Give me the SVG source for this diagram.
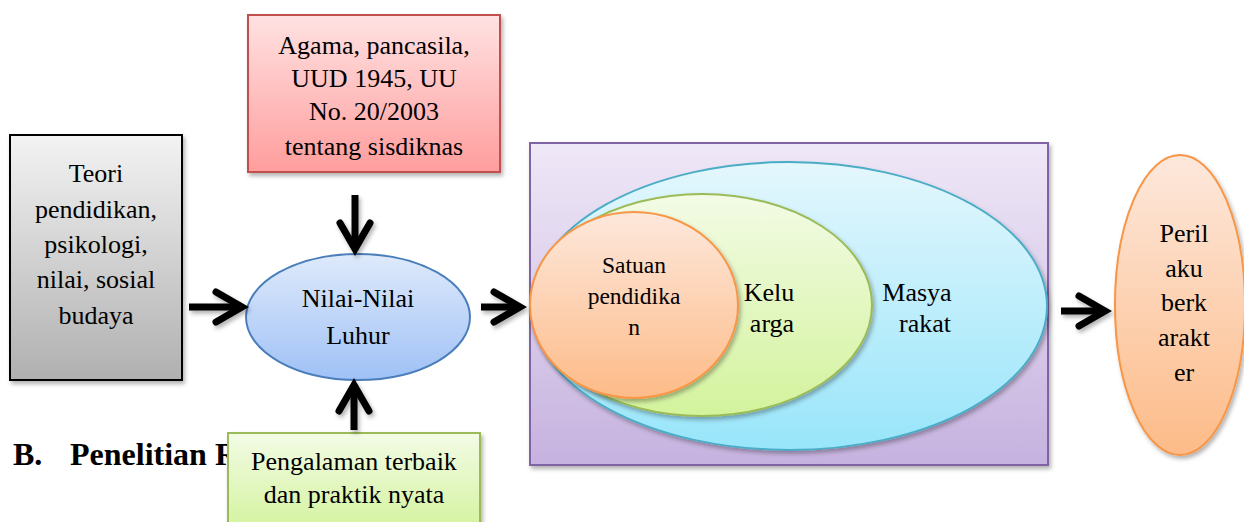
<svg xmlns="http://www.w3.org/2000/svg" width="1244" height="522" viewBox="0 0 1244 522">
<defs>
<linearGradient id="gGray" x1="0" y1="0" x2="0" y2="1"><stop offset="0" stop-color="#f3f3f3"/><stop offset="1" stop-color="#b0b0b0"/></linearGradient>
<linearGradient id="gRed" x1="0" y1="0" x2="0" y2="1"><stop offset="0" stop-color="#ffe2e2"/><stop offset="1" stop-color="#ff9d9d"/></linearGradient>
<linearGradient id="gBlue" x1="0" y1="0" x2="0" y2="1"><stop offset="0" stop-color="#dfeafb"/><stop offset="1" stop-color="#9fc1f6"/></linearGradient>
<linearGradient id="gGreen" x1="0" y1="0" x2="0" y2="1"><stop offset="0" stop-color="#f3fbe6"/><stop offset="1" stop-color="#d3f39c"/></linearGradient>
<linearGradient id="gPurple" x1="0" y1="0" x2="0" y2="1"><stop offset="0" stop-color="#efe8f7"/><stop offset="1" stop-color="#c6b2df"/></linearGradient>
<linearGradient id="gCyan" x1="0" y1="0" x2="0" y2="1"><stop offset="0" stop-color="#e4f7fd"/><stop offset="1" stop-color="#98e5fa"/></linearGradient>
<linearGradient id="gOrange" x1="0" y1="0" x2="0" y2="1"><stop offset="0" stop-color="#fde8dc"/><stop offset="1" stop-color="#fdbb88"/></linearGradient>
<filter id="sh" x="-10%" y="-10%" width="130%" height="130%"><feDropShadow dx="2" dy="3" stdDeviation="2" flood-color="#000" flood-opacity="0.3"/></filter>
<marker id="head" markerUnits="userSpaceOnUse" markerWidth="44" markerHeight="44" viewBox="-34 -22 44 44" refX="0" refY="0" orient="auto">
<path d="M -26 -15 L 0 0 L -26 15" fill="none" stroke="#000" stroke-width="7" stroke-linecap="round" stroke-linejoin="miter"/>
</marker>
</defs>
<style>
text{fill:#000}
.t{font-size:26px;text-anchor:middle;font-weight:normal}
.s{font-size:23.5px}
.h{font-size:32px;font-weight:bold}
.arr{stroke:#000;stroke-width:7;fill:none;marker-end:url(#head)}
</style>

<text class="h" x="13" y="465" font-family="Liberation Serif, Times New Roman, serif">B.</text>
<text class="h" x="70" y="465" font-family="Liberation Serif, Times New Roman, serif">Penelitian R</text>

<g id="teori" font-family="Liberation Serif, Times New Roman, serif">
<rect x="10" y="135" width="172" height="245" fill="url(#gGray)" stroke="#000" stroke-width="2" filter="url(#sh)"/>
<text class="t" x="96" y="182">Teori</text>
<text class="t" x="96" y="218">pendidikan,</text>
<text class="t" x="96" y="253">psikologi,</text>
<text class="t" x="96" y="288">nilai, sosial</text>
<text class="t" x="96" y="324">budaya</text>
</g>

<g id="agama" font-family="Liberation Serif, Times New Roman, serif">
<rect x="248" y="15" width="252" height="157" fill="url(#gRed)" stroke="#c0504d" stroke-width="2" filter="url(#sh)"/>
<text class="t" x="374" y="54">Agama, pancasila,</text>
<text class="t" x="374" y="87">UUD 1945, UU</text>
<text class="t" x="374" y="120">No. 20/2003</text>
<text class="t" x="374" y="155">tentang sisdiknas</text>
</g>

<g id="nilai" font-family="Liberation Serif, Times New Roman, serif">
<ellipse cx="358" cy="317" rx="112" ry="63" fill="url(#gBlue)" stroke="#4a7ebb" stroke-width="2"/>
<text class="t" x="358" y="307">Nilai-Nilai</text>
<text class="t" x="358" y="344">Luhur</text>
</g>

<g id="lingkungan" font-family="Liberation Serif, Times New Roman, serif">
<rect x="530" y="143" width="518" height="322" fill="url(#gPurple)" stroke="#8064a2" stroke-width="2" filter="url(#sh)"/>
<ellipse cx="789" cy="306" rx="258" ry="144" fill="url(#gCyan)" stroke="#4bacc6" stroke-width="2" filter="url(#sh)"/>
<ellipse cx="702" cy="305" rx="170" ry="111" fill="url(#gGreen)" stroke="#9bbb59" stroke-width="2" filter="url(#sh)"/>
<ellipse cx="634" cy="305" rx="104" ry="93" fill="url(#gOrange)" stroke="#f79646" stroke-width="2" filter="url(#sh)"/>
<text class="t s" x="634" y="273">Satuan</text>
<text class="t s" x="634" y="304">pendidika</text>
<text class="t s" x="634" y="335">n</text>
<text class="t" x="769" y="301">Kelu</text>
<text class="t" x="772" y="332">arga</text>
<text class="t" x="917" y="301">Masya</text>
<text class="t" x="925" y="332">rakat</text>
</g>

<g id="pengalaman" font-family="Liberation Serif, Times New Roman, serif">
<rect x="228" y="433" width="252" height="100" fill="url(#gGreen)" stroke="#9bbb59" stroke-width="2" filter="url(#sh)"/>
<text class="t" x="354" y="470">Pengalaman terbaik</text>
<text class="t" x="354" y="503">dan praktik nyata</text>
</g>

<g id="perilaku" font-family="Liberation Serif, Times New Roman, serif">
<ellipse cx="1180" cy="305" rx="65" ry="150" fill="url(#gOrange)" stroke="#f79646" stroke-width="2" filter="url(#sh)"/>
<text class="t" x="1184" y="242">Peril</text>
<text class="t" x="1184" y="277">aku</text>
<text class="t" x="1184" y="311">berk</text>
<text class="t" x="1184" y="346">arakt</text>
<text class="t" x="1184" y="381">er</text>
</g>

<g id="connectors" filter="url(#sh)">
<path class="arr" d="M 189 307 L 242 307"/>
<path class="arr" d="M 355 195 L 355 249"/>
<path class="arr" d="M 354 430 L 354 385"/>
<path class="arr" d="M 481 307 L 520 307"/>
<path class="arr" d="M 1061 311 L 1105 311"/>
</g>
</svg>
